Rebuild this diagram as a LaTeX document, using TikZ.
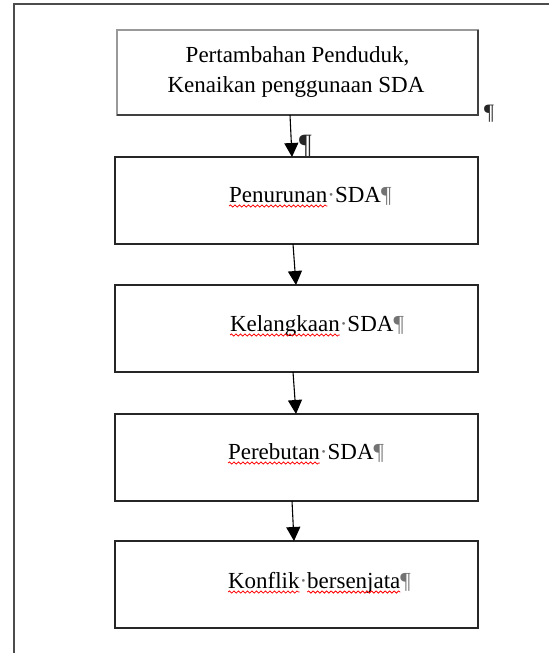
\documentclass[tikz,border=0pt]{standalone}
\usepackage{fontspec}
\setmainfont{Liberation Serif}
\usetikzlibrary{arrows.meta,decorations.pathmorphing}
\newcommand{\gmk}[1]{\textcolor{black!55}{#1}}
\begin{document}
\begin{tikzpicture}[x=1pt,y=-1pt,
  box/.style={draw=black!85,line width=1.3pt,minimum width=363pt,minimum height=87pt,inner sep=0pt,outer sep=0pt},
  topbox/.style={draw=black!40,line width=1.3pt,minimum width=361pt,minimum height=85pt,inner sep=0pt,outer sep=0pt},
  lab/.style={inner sep=0pt,outer sep=0pt,font=\fontsize{23}{28}\selectfont},
  squig/.style={draw=red,line width=0.75pt,decorate,decoration={snake,segment length=4.5pt,amplitude=1.1pt}},
  conn/.style={draw=black,line width=1.1pt,-{Triangle[width=14pt,length=14pt]}},
  frame/.style={draw=black!70,line width=1.6pt}
]
\useasboundingbox (0,0) rectangle (549,653);
\fill[white] (0,0) rectangle (549,653);
% outer page frame
\draw[frame] (14,653) -- (14,4) -- (549,4);

% top box
\node[topbox] (tb) at (297.5,72.5) {};
\draw[black!75,line width=1.3pt] (tb.north east) -- (tb.south east) -- (tb.south west);
\node[lab,anchor=base] (t1) at (297.5,62) {Pertambahan Penduduk,};
\node[lab,anchor=base] (t2) at (296,92) {Kenaikan penggunaan SDA};
\node[lab,anchor=base west,font=\fontsize{22}{24}\selectfont] (p0) at (484,119) {\textcolor{black!85}{¶}};

% boxes
\node[box] (b2) at (296.5,200.5) {};
\node[box] (b3) at (296.5,328.5) {};
\node[box] (b4) at (296.5,457.5) {};
\node[box] (b5) at (296.5,584.5) {};

% labels
\node[lab,anchor=base west] (w2) at (229,202) {Penurunan};
\node[lab,anchor=base west] (r2) at (w2.base east) {\gmk{·}SDA\gmk{¶}};
\draw[squig] ([yshift=-4pt]w2.base west) -- ([yshift=-4pt]w2.base east);

\node[lab,anchor=base west] (w3) at (230,331) {Kelangkaan};
\node[lab,anchor=base west] (r3) at (w3.base east) {\gmk{·}SDA\gmk{¶}};
\draw[squig] ([yshift=-4pt]w3.base west) -- ([yshift=-4pt]w3.base east);

\node[lab,anchor=base west] (w4) at (228,459) {Perebutan};
\node[lab,anchor=base west] (r4) at (w4.base east) {\gmk{·}SDA\gmk{¶}};
\draw[squig] ([yshift=-4pt]w4.base west) -- ([yshift=-4pt]w4.base east);

\node[lab,anchor=base west] (w5) at (228,588) {Konflik};
\node[lab,anchor=base west] (d5) at (w5.base east) {\gmk{·}};
\node[lab,anchor=base west] (v5) at (d5.base east) {bersenjata};
\node[lab,anchor=base west] (e5) at (v5.base east) {\gmk{¶}};
\draw[squig] ([yshift=-4pt]w5.base west) -- ([yshift=-4pt]w5.base east);
\draw[squig] ([yshift=-4pt]v5.base west) -- ([yshift=-4pt]v5.base east);

% connectors
\draw[conn] ([xshift=-7.5pt]tb.south) -- ([xshift=-4.5pt]b2.north);
\node[lab,anchor=base west,font=\fontsize{28}{30}\selectfont] (p1) at (299,153) {\textcolor{black!85}{¶}};
\draw[conn] ([xshift=-3.5pt]b2.south) -- ([xshift=-0.5pt]b3.north);
\draw[conn] ([xshift=-3.5pt]b3.south) -- ([xshift=-0.5pt]b4.north);
\draw[conn] ([xshift=-4.5pt]b4.south) -- ([xshift=-2.5pt]b5.north);
\end{tikzpicture}
\end{document}
